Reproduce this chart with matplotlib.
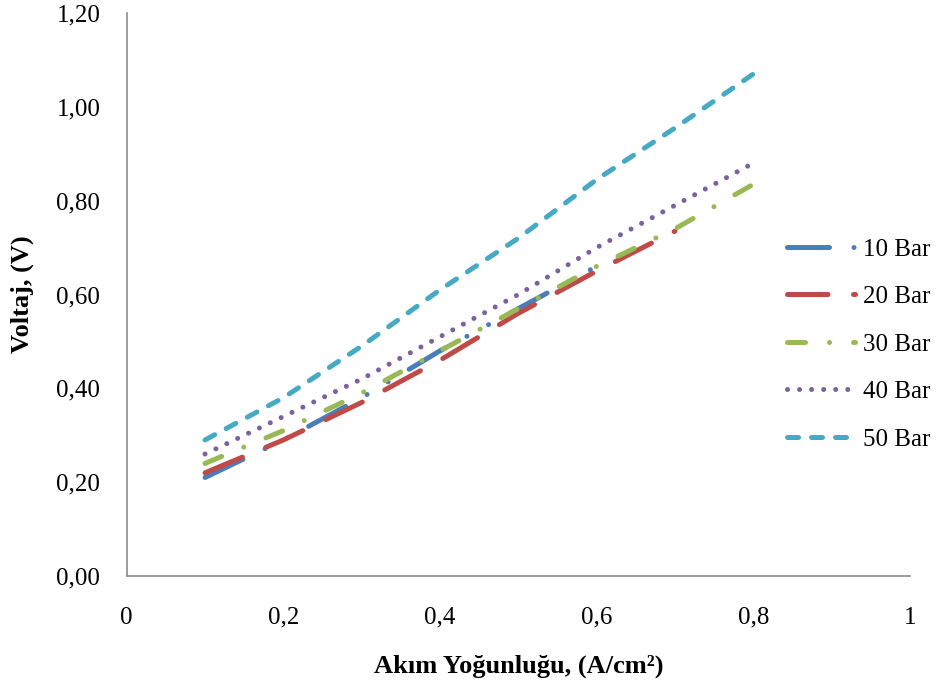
import numpy as np
import matplotlib
matplotlib.use("Agg")
import matplotlib.pyplot as plt

plt.rcParams['font.family'] = ['Liberation Serif', 'DejaVu Serif']

# akim yogunlugu (A/cm2) ve voltaj degerleri
x_full = [0.1, 0.2, 0.3, 0.4, 0.5, 0.6, 0.7, 0.8]
v10 = [0.21, 0.29, 0.38, 0.48, 0.57, 0.66]
v20 = [0.22, 0.29, 0.37, 0.46, 0.56, 0.65, 0.735]
v30 = [0.24, 0.31, 0.39, 0.48, 0.57, 0.66, 0.74, 0.835]
v40 = [0.26, 0.34, 0.42, 0.51, 0.60, 0.70, 0.79, 0.88]
v50 = [0.29, 0.38, 0.49, 0.61, 0.72, 0.845, 0.955, 1.07]

labels = ['10 Bar', '20 Bar', '30 Bar', '40 Bar', '50 Bar']
colors = ['#4A7EBB', '#BE4B48', '#98B954', '#7D60A0', '#46AAC5']
dot = 0.01
dashes = [(0, (8.4, 4.9, dot, 4.9, dot, 4.9)),
          (0, (8.1, 5.1)),
          (0, (3.6, 4.8, dot, 4.8)),
          (0, (dot, 2.4)),
          (0, (2.2, 2.6))]

xticks = [0, 0.2, 0.4, 0.6, 0.8, 1.0]
xticklabels = ['0', '0,2', '0,4', '0,6', '0,8', '1']
yticks = [0, 0.2, 0.4, 0.6, 0.8, 1.0, 1.2]
yticklabels = ['0,00', '0,20', '0,40', '0,60', '0,80', '1,00', '1,20']

fig = plt.figure(figsize=(9.4, 6.93), dpi=100)
ax = fig.add_axes([0.1348, 0.1688, 0.8332, 0.8124])

series = [v10, v20, v30, v40, v50]
for vals, lab, col, ls in zip(series, labels, colors, dashes):
    ax.plot(x_full[:len(vals)], vals, color=col, lw=3.6, linestyle=ls,
            dash_capstyle='round', solid_capstyle='round', label=lab)

ax.set_xlim(0, 1)
ax.set_ylim(0, 1.2)
ax.set_xticks(xticks)
ax.set_xticklabels(xticklabels)
ax.set_yticks(yticks)
ax.set_yticklabels(yticklabels)
ax.tick_params(length=0, labelsize=18)
ax.tick_params(axis='y', pad=19)
ax.tick_params(axis='x', pad=22)

for s in ['top', 'right']:
    ax.spines[s].set_visible(False)
for s in ['left', 'bottom']:
    ax.spines[s].set_color('#8c8c8c')
    ax.spines[s].set_linewidth(1.2)

ax.set_xlabel('Akım Yoğunluğu, (A/cm²)', fontsize=19, fontweight='bold')
ax.set_ylabel('Voltaj, (V)', fontsize=19, fontweight='bold')
ax.xaxis.set_label_coords(0.5, -0.14)
ax.yaxis.set_label_coords(-0.118, 0.5)

ax.legend(loc='center left', bbox_to_anchor=(0.813, 0.503), bbox_transform=fig.transFigure,
          frameon=False, fontsize=18, handlelength=2.75, handletextpad=0.3,
          labelspacing=1.0)

fig.savefig('out.png', dpi=100)
